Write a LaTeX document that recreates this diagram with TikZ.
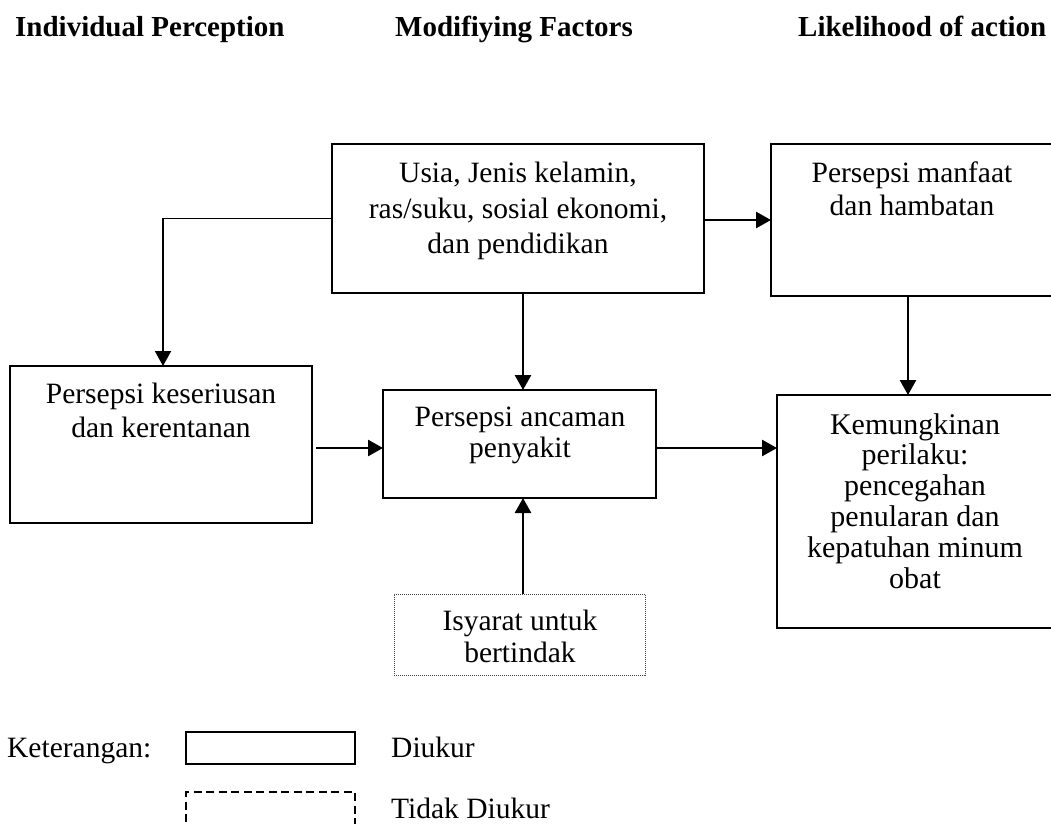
\documentclass[tikz,border=0pt]{standalone}
\usepackage{fontspec}
\setmainfont{Liberation Serif}
\usetikzlibrary{arrows.meta}
\begin{document}
\begin{tikzpicture}[x=1pt,y=-1pt,
  box/.style={draw, line width=1.9pt, rectangle, inner sep=0pt, outer sep=0pt},
  dotbox/.style={draw=black!75, densely dotted, line width=1pt, rectangle, inner sep=0pt, outer sep=0pt},
  dashbox/.style={draw, dash pattern=on 8pt off 4.5pt, line width=1.5pt, rectangle, inner sep=0pt, outer sep=0pt},
  txt/.style={align=center, inner sep=0pt, anchor=north},
  head/.style={inner sep=0pt, anchor=base west, font=\bfseries\fontsize{29}{34}\selectfont},
  leg/.style={inner sep=0pt, anchor=base west, font=\fontsize{29.5}{34}\selectfont},
  arr/.style={line width=2.6pt, -{Triangle[length=15pt,width=16pt]}}]
\useasboundingbox (0,0) rectangle (1051,823);
\clip (0,0) rectangle (1051,823);

% headers
\node[head] (h1) at (15,36) {Individual Perception};
\node[head] (h2) at (395,36) {Modifiying Factors};
\node[head] (h3) at (798,36) {Likelihood of action};

% boxes
\node[box, minimum width=372pt, minimum height=149pt] (ubox) at (518,218.5) {};
\node[box, minimum width=282pt, minimum height=152pt] (mbox) at (912,220) {};
\node[box, minimum width=302pt, minimum height=157pt] (lbox) at (161,444.5) {};
\node[box, minimum width=273pt, minimum height=108pt] (pbox) at (519.5,444) {};
\node[box, minimum width=276pt, minimum height=233pt] (kbox) at (915,511.5) {};
\node[dotbox, minimum width=251pt, minimum height=81pt] (ibox) at (519.5,634.5) {};

% texts
\node[txt, font=\fontsize{29.5}{35.5}\selectfont] (ut) at (518,162)
  {Usia, Jenis kelamin,\\ ras/suku, sosial ekonomi,\\ dan pendidikan};
\node[txt, font=\fontsize{29.5}{33}\selectfont] (mt) at (912,162)
  {Persepsi manfaat\\ dan hambatan};
\node[txt, font=\fontsize{29.5}{34}\selectfont] (lt) at (161,383)
  {Persepsi keseriusan\\ dan kerentanan};
\node[txt, font=\fontsize{29.5}{31}\selectfont] (pt) at (520,407)
  {Persepsi ancaman\\ penyakit};
\node[txt, font=\fontsize{30}{30.8}\selectfont] (kt) at (915,413)
  {Kemungkinan\\ perilaku:\\ pencegahan\\ penularan dan\\ kepatuhan minum\\ obat};
\node[txt, font=\fontsize{29.5}{32}\selectfont] (it) at (520,610)
  {Isyarat untuk\\ bertindak};

% connectors
\draw[arr, line width=1.9pt] (ubox.west) -| ([xshift=2pt]lbox.north);
\draw[arr] ([yshift=-1.5pt]ubox.east) -- ([yshift=-1.5pt]ubox.east -| mbox.west);
\draw[arr] ([xshift=5pt]ubox.south) -- ([xshift=5pt]ubox.south |- pbox.north);
\draw[arr] ([xshift=-4pt]mbox.south) -- ([xshift=-4pt]mbox.south |- kbox.north);
\draw[arr] ([xshift=4pt,yshift=-3.5pt]lbox.east) -- ([yshift=-3.5pt]lbox.east -| pbox.west);
\draw[arr] ([yshift=-4pt]pbox.east) -- ([yshift=-4pt]pbox.east -| kbox.west);
\draw[arr] ([xshift=3.5pt]ibox.north) -- ([xshift=3.5pt]ibox.north |- pbox.south);

% legend
\node[leg] (k1) at (7,757) {Keterangan:};
\node[box, line width=1.6pt, minimum width=169pt, minimum height=32pt] (lg1) at (270.5,748) {};
\node[leg] (d1) at (391,757) {Diukur};
\node[dashbox, minimum width=169pt, minimum height=40pt] (lg2) at (270.5,812) {};
\node[leg] (d2) at (391,818) {Tidak Diukur};
\end{tikzpicture}
\end{document}
